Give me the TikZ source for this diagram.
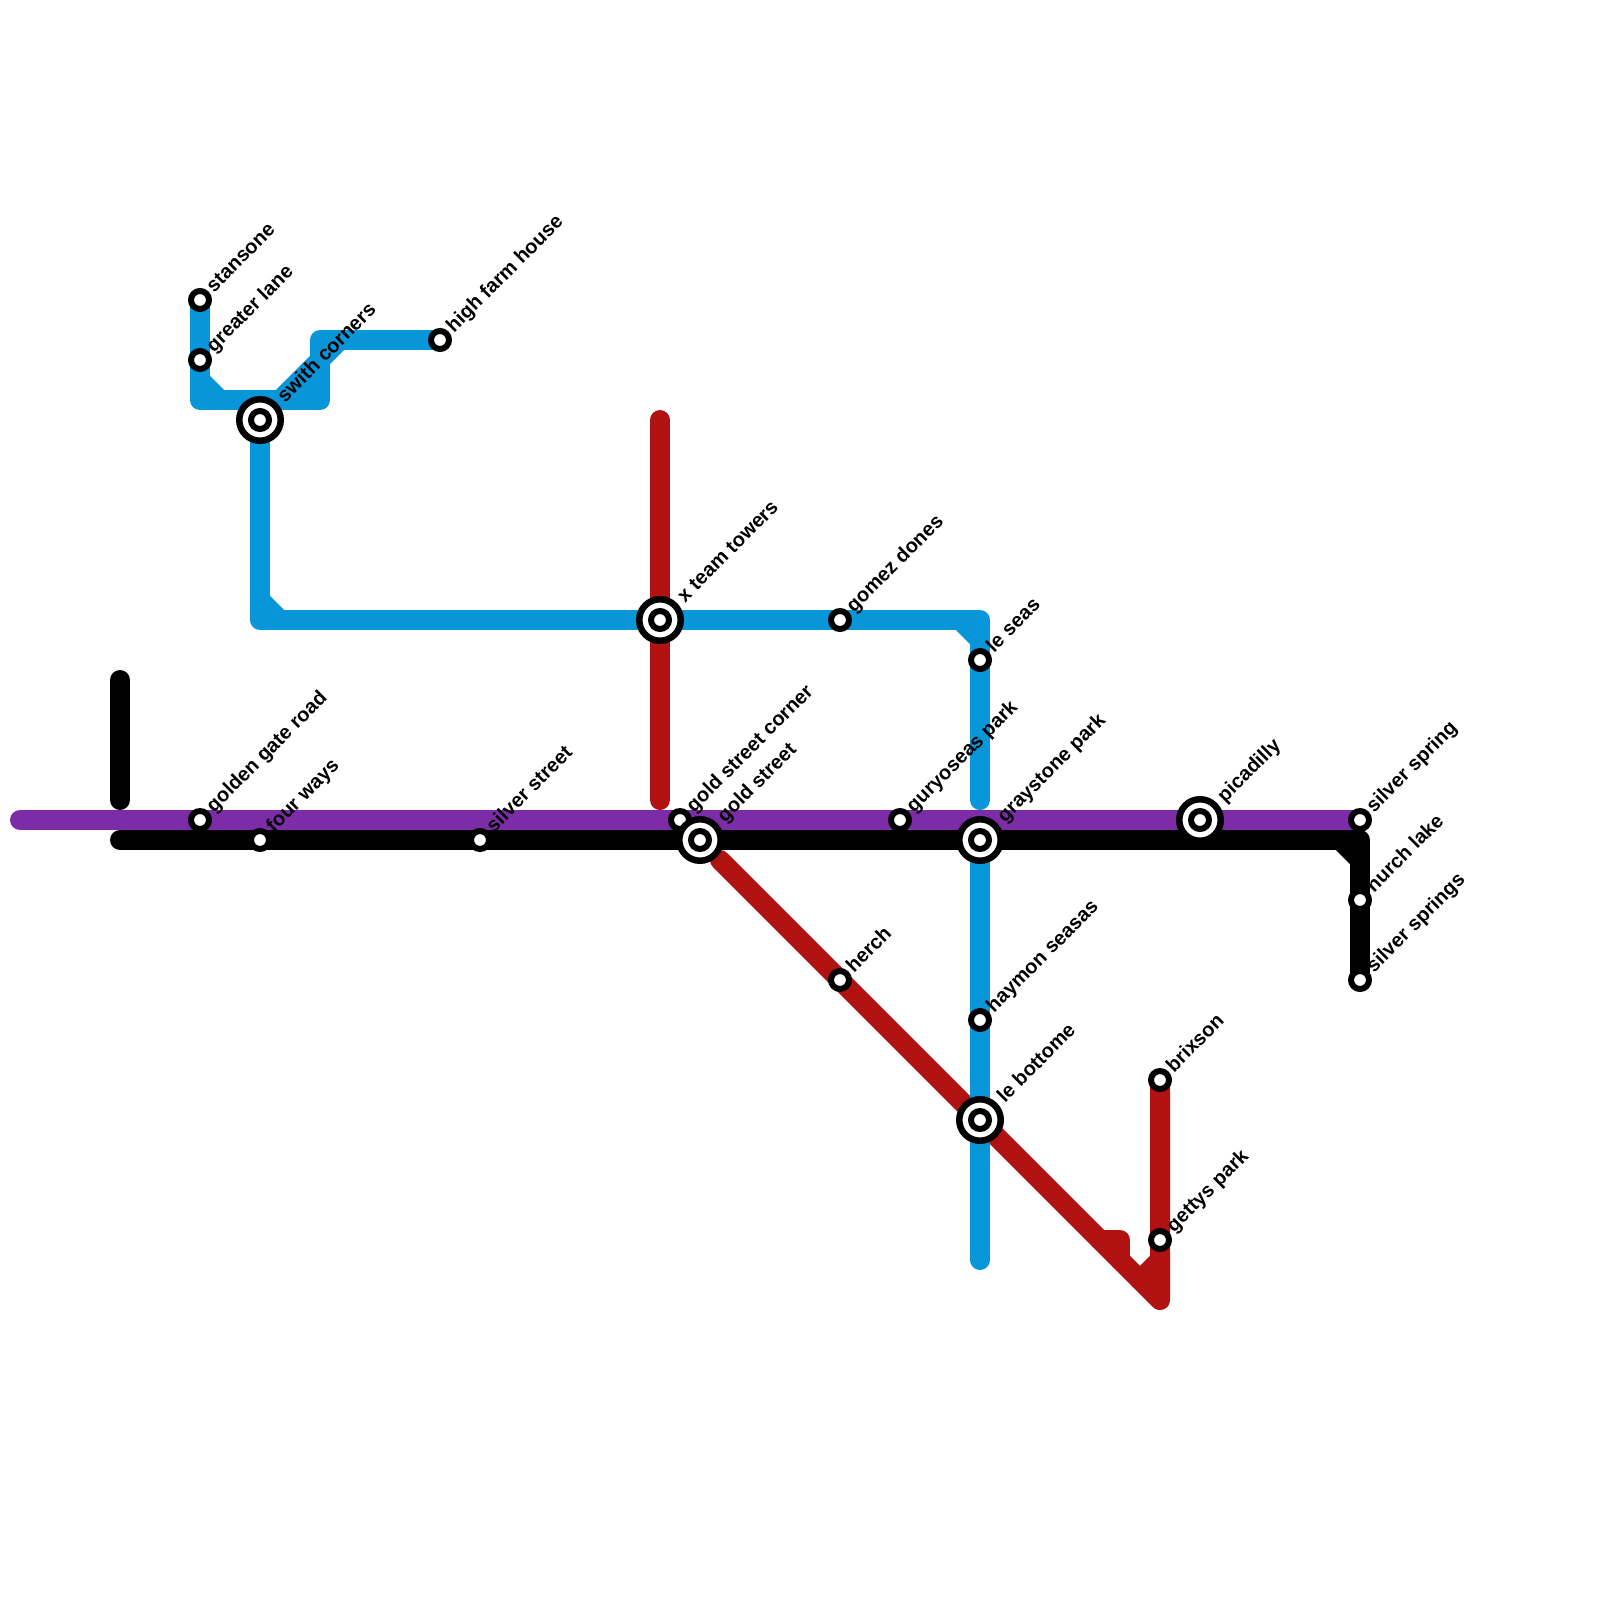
\documentclass[tikz,border=0pt]{standalone}
\usepackage{fontspec}
\setmainfont{Liberation Sans}
\tikzset{
  railway/.style={line width=20pt,line join=round,line cap=round},
  blueline/.style={railway,draw={rgb,255:red,9;green,150;blue,217}},
  redline/.style={railway,draw={rgb,255:red,176;green,18;blue,18}},
  blackline/.style={railway,draw=black},
  purpleline/.style={railway,draw={rgb,255:red,125;green,44;blue,167}},
  stn/.style={circle,draw=black,fill=white,line width=6pt,minimum size=18pt,inner sep=0pt,outer sep=0pt},
  hub/.style={circle,draw=black,fill=white,line width=6.5pt,minimum size=41.5pt,inner sep=0pt,outer sep=0pt},
  lbl/.style={anchor=base west,rotate=45,inner sep=0pt,outer sep=0pt,font=\fontsize{20}{20}\selectfont\bfseries,text=black},
}
\begin{document}
\begin{tikzpicture}[x=1pt,y=-1pt]
\path[use as bounding box,fill=white] (0,0) rectangle (1600,1600);
% stations
\foreach \n/\x/\y in {stansoneP/200/300,greaterP/200/360,swithP/260/420,farmP/440/340,teamP/660/620,gomezP/840/620,
 leseasP/980/660,goldengateP/200/820,fourP/260/840,silverstP/480/840,goldcornerP/680/820,goldstP/700/840,guryP/900/820,
 grayP/980/840,picP/1200/820,springP/1360/820,churchP/1360/900,springsP/1360/980,herchP/840/980,haymonP/980/1020,
 bottomeP/980/1120,brixP/1160/1080,gettysP/1160/1240,
 a1/200/380,a2/220/400,a3/200/400,a4/320/400,a5/320/340,a6/280/400,a7/340/340,a8/300/400,a9/320/380,
 b1/260/600,b2/280/620,b3/260/620,b4/980/620,b5/960/620,b6/980/640,b7/980/800,b8/980/1260,
 r1/660/420,r2/660/800,r3/1160/1300,r4/1100/1240,r5/1120/1240,r6/1120/1260,r7/1160/1260,r8/1140/1280,r9/720/860,
 k1/120/680,k2/120/800,k3/120/840,k4/1360/840,k5/1340/840,k6/1360/860,
 p1/20/820}{\coordinate (\n) at (\x,\y);}
% lines
\draw[purpleline] (p1) -- (springP);
\draw[blackline] (k1) -- (k2);
\draw[blackline] (k3) -- (k4) -- (springsP);
\draw[blackline] (k5) -- (k6);
\draw[redline] (r1) -- (r2);
\draw[redline] (r9) -- (r3) -- (brixP);
\draw[redline] (r4) -- (r5) -- (r6);
\draw[redline] (r7) -- (r8);
\draw[blueline] (stansoneP) -- (a3) -- (a4) -- (a5) -- (farmP);
\draw[blueline] (a1) -- (a2);
\draw[blueline] (a6) -- (a7);
\draw[blueline] (a8) -- (a9);
\draw[blueline] (swithP) -- (b3) -- (b4) -- (b7);
\draw[blueline] (b1) -- (b2);
\draw[blueline] (b5) -- (b6);
\draw[blueline] (grayP) -- (b8);
% small stations
\foreach \n/\p in {stansone/stansoneP,greater/greaterP,farm/farmP,gomez/gomezP,leseas/leseasP,goldengate/goldengateP,four/fourP,silverst/silverstP,goldcorner/goldcornerP,gury/guryP,spring/springP,church/churchP,springs/springsP,herch/herchP,haymon/haymonP,brix/brixP,gettys/gettysP}{\node[stn] (\n) at (\p) {};}
% interchanges
\foreach \n/\p in {swith/swithP,team/teamP,goldst/goldstP,gray/grayP,pic/picP,bottome/bottomeP}{\node[hub] (\n) at (\p) {};\node[stn] (\n-in) at (\p) {};}
% labels
\foreach \n/\t in {stansone/stansone,greater/greater lane,farm/high farm house,gomez/gomez dones,leseas/le seas,goldengate/golden gate road,four/four ways,silverst/silver street,goldcorner/gold street corner,gury/guryoseas park,spring/silver spring,church/hurch lake,springs/silver springs,herch/herch,haymon/haymon seasas,brix/brixson,gettys/gettys park}{\node[lbl] (\n-t) at ([shift={(14,-7)}]\n.center) {\t};}
\foreach \n/\t in {swith/swith corners,team/x team towers,goldst/gold street,gray/graystone park,pic/picadilly,bottome/le bottome}{\node[lbl] (\n-t) at ([shift={(25,-17)}]\n.center) {\t};}
\end{tikzpicture}
\end{document}
